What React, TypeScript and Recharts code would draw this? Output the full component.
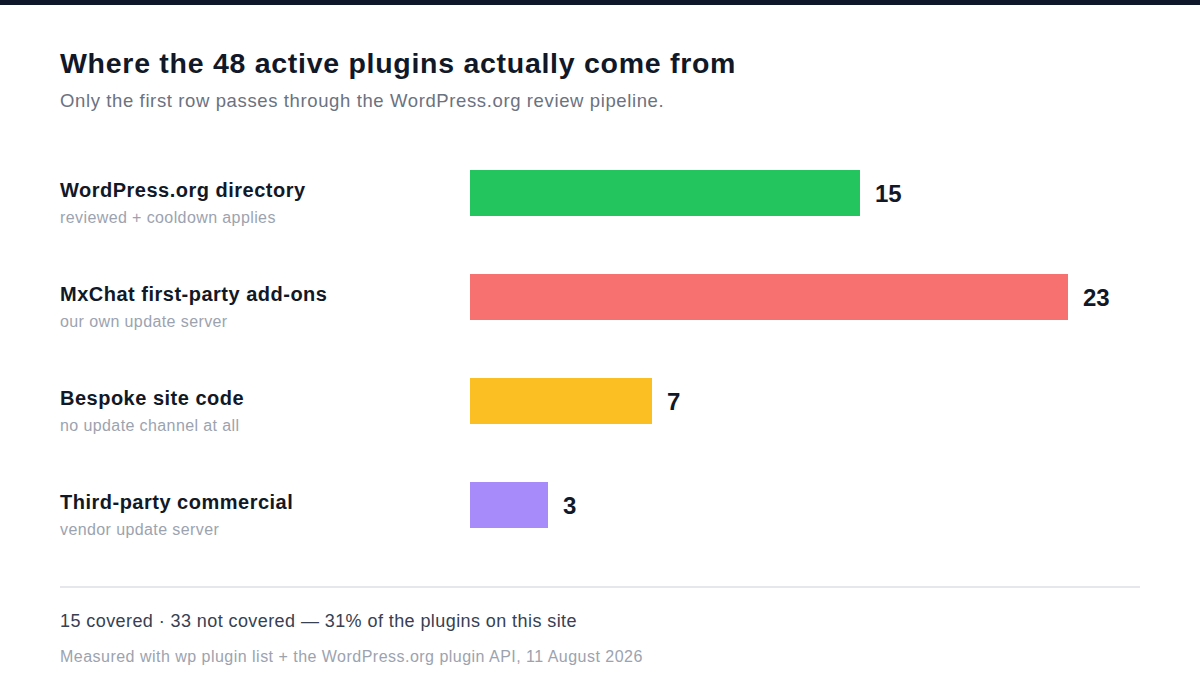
import React from "react";
import { BarChart, Bar, XAxis, YAxis, Cell, LabelList } from "recharts";

const categories = [
  "WordPress.org directory",
  "MxChat first-party add-ons",
  "Bespoke site code",
  "Third-party commercial",
];
const subLabels = [
  "reviewed + cooldown applies",
  "our own update server",
  "no update channel at all",
  "vendor update server",
];
const counts = [15, 23, 7, 3];
const colors = ["#22c55e", "#f87171", "#fbbf24", "#a78bfa"];

const title = "Where the 48 active plugins actually come from";
const subtitle = "Only the first row passes through the WordPress.org review pipeline.";
const summary = "15 covered · 33 not covered — 31% of the plugins on this site";
const source = "Measured with wp plugin list + the WordPress.org plugin API, 11 August 2026";

const data = categories.map((name, i) => ({ name, sub: subLabels[i], value: counts[i] }));

const FONT = '"Liberation Sans", Arial, Helvetica, sans-serif';

const CategoryTick = (props: any) => {
  const { y, payload, index } = props;
  return (
    <g>
      <text
        x={60}
        y={y + 4}
        fontSize={20}
        fontWeight={700}
        fill="#111827"
        fontFamily={FONT}
        letterSpacing={0.5}
      >
        {payload.value}
      </text>
      <text x={60} y={y + 29.5} fontSize={16} fill="#9ca3af" fontFamily={FONT} letterSpacing={0.4}>
        {subLabels[index]}
      </text>
    </g>
  );
};

const abs = (
  top: number,
  fontSize: number,
  color: string,
  weight: number,
  spacing: number
): React.CSSProperties => ({
  position: "absolute",
  left: 60,
  top,
  fontSize,
  lineHeight: 1,
  color,
  fontWeight: weight,
  letterSpacing: spacing,
  whiteSpace: "nowrap",
});

export default function App() {
  return (
    <div
      style={{
        position: "absolute",
        left: 0,
        top: 0,
        width: 1200,
        height: 700,
        background: "#ffffff",
        fontFamily: FONT,
        overflow: "hidden",
      }}
    >
      <div style={{ position: "absolute", left: 0, top: 0, width: 1200, height: 5, background: "#0f172a" }} />
      <div style={abs(48.6, 28.5, "#111827", 700, 0.72)}>{title}</div>
      <div style={abs(92.3, 18.5, "#6b7280", 400, 0.62)}>{subtitle}</div>
      <div style={{ position: "absolute", left: 0, top: 0 }}>
        <BarChart
          width={1200}
          height={700}
          data={data}
          layout="vertical"
          margin={{ top: 141, bottom: 143, left: 0, right: 80 }}
        >
          <XAxis type="number" domain={[0, 25]} hide />
          <YAxis
            type="category"
            dataKey="name"
            width={470}
            axisLine={false}
            tickLine={false}
            tick={<CategoryTick />}
          />
          <Bar dataKey="value" barSize={46} isAnimationActive={false}>
            {data.map((d, i) => (
              <Cell key={d.name} fill={colors[i]} />
            ))}
            <LabelList
              dataKey="value"
              position="right"
              offset={15}
              fontSize={24}
              fontWeight={700}
              fill="#111827"
              fontFamily={FONT}
            />
          </Bar>
        </BarChart>
      </div>
      <div style={{ position: "absolute", left: 60, top: 586, width: 1080, height: 1.5, background: "#e5e7eb" }} />
      <div style={abs(612.3, 18, "#374151", 400, 0.42)}>{summary}</div>
      <div style={abs(648.5, 16, "#9ca3af", 400, 0.48)}>{source}</div>
    </div>
  );
}
